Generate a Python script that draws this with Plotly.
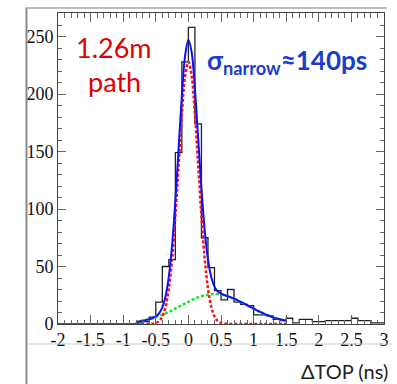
import numpy as np
import plotly.graph_objects as go

# ---------------- data ----------------
bin_width = 0.1
bin_first_edge = -2.0
counts = [0]*12 + [1, 2, 6, 19, 50, 56, 149, 228,
                   258, 174, 75, 49, 29, 21, 30, 19, 17, 16,
                   8, 8, 7, 4, 3, 5, 1, 4, 4, 2,
                   2, 3, 3, 3, 3, 5, 3, 3, 1, 1]

fit_x = [-0.8, -0.75, -0.7, -0.65, -0.6, -0.55, -0.5, -0.45, -0.4, -0.35, -0.3, -0.25,
         -0.2, -0.15, -0.1, -0.05, 0.0, 0.05, 0.1, 0.15, 0.2, 0.25, 0.3, 0.35, 0.4,
         0.45, 0.5, 0.55, 0.6, 0.65, 0.7, 0.75, 0.8, 0.85, 0.9, 0.95, 1.0, 1.05, 1.1,
         1.15, 1.2, 1.25, 1.3, 1.35, 1.4, 1.45, 1.5]
narrow_fit = [0, 0, 0, 0, 0.1, 0.3, 0.9, 2.5, 6.5, 15.0, 30.9, 56.8, 93.7, 138.3, 182.6,
              215.7, 228.0, 215.7, 182.6, 138.3, 93.7, 56.8, 30.9, 15.0, 6.5, 2.5, 0.9,
              0.3, 0.1] + [0]*18
wide_fit = [1.8, 2.25, 2.8, 3.4, 4.1, 4.9, 5.8, 6.8, 8.0, 9.2, 10.5, 11.9, 13.4, 14.9,
            16.4, 17.9, 19.3, 20.7, 22.0, 23.2, 24.1, 24.9, 25.5, 25.9, 26.0, 25.9, 25.5,
            24.9, 24.1, 23.2, 22.0, 20.7, 19.3, 17.9, 16.4, 14.9, 13.4, 11.9, 10.5, 9.2,
            8.0, 6.8, 5.8, 4.9, 4.1, 3.4, 2.8]
total_fit = [1.8, 2.25, 2.8, 3.4, 4.2, 5.2, 6.7, 9.3, 14.5, 24.2, 41.4, 68.7, 107.1,
             153.2, 199.0, 233.6, 247.3, 236.4, 204.6, 161.5, 117.8, 81.7, 56.4, 40.9,
             32.5, 28.4, 26.4, 25.2, 24.2, 23.2, 22.0, 20.7, 19.3, 17.9, 16.4, 14.9, 13.4,
             11.9, 10.5, 9.2, 8.0, 6.8, 5.8, 4.9, 4.1, 3.4, 2.8]

x_tickvals = [-2, -1.5, -1, -0.5, 0, 0.5, 1, 1.5, 2, 2.5, 3]
x_ticktext = ["-2", "-1.5", "-1", "-0.5", "0", "0.5", "1", "1.5", "2", "2.5", "3"]
y_tickvals = [0, 50, 100, 150, 200, 250]

# ---------------- geometry ----------------
W, H = 397, 384
L, R, T, B = 58, 8, 13, 60
pw, ph = W - L - R, H - T - B

def px(xp):
    return (xp - L) / pw

def py(yp):
    return (H - B - yp) / ph

edges = [round(bin_first_edge + i * bin_width, 3) for i in range(len(counts) + 1)]
hist_y = counts + [counts[-1]]

fig = go.Figure()
fig.add_trace(go.Scatter(x=edges, y=hist_y, mode="lines", line_shape="hv",
                         line=dict(color="#222222", width=1.3), showlegend=False,
                         hoverinfo="skip"))
fig.add_trace(go.Scatter(x=fit_x, y=wide_fit, mode="lines", line_shape="spline",
                         line=dict(color="#22e022", width=2.5, dash="3px,2px"),
                         showlegend=False))
fig.add_trace(go.Scatter(x=fit_x, y=narrow_fit, mode="lines", line_shape="spline",
                         line=dict(color="#ff1010", width=2.5, dash="3px,2px"),
                         showlegend=False))
fig.add_trace(go.Scatter(x=fit_x, y=total_fit, mode="lines", line_shape="spline",
                         line=dict(color="#1010ff", width=2), showlegend=False))

tickfont = dict(family="Liberation Serif", size=18, color="#111111")
fig.update_xaxes(range=[-2, 3], tickmode="array", tickvals=x_tickvals, ticktext=x_ticktext,
                 ticks="inside", ticklen=9, tickcolor="#666666", tickwidth=1,
                 ticklabelstandoff=-1,
                 minor=dict(dtick=0.1, tick0=0, ticks="inside", ticklen=4.5,
                            tickcolor="#666666", tickwidth=1, showgrid=False),
                 showline=True, linecolor="#444444", linewidth=1, mirror="ticks",
                 showgrid=False, zeroline=False, tickfont=tickfont)
fig.update_yaxes(range=[0, 270.5], tickmode="array", tickvals=y_tickvals,
                 ticks="inside", ticklen=8, tickcolor="#666666", tickwidth=1,
                 minor=dict(dtick=10, tick0=0, ticks="inside", ticklen=4,
                            tickcolor="#666666", tickwidth=1, showgrid=False),
                 showline=True, linecolor="#444444", linewidth=1, mirror="ticks",
                 showgrid=False, zeroline=False, tickfont=tickfont)

shapes = [
    dict(type="line", xref="paper", yref="paper", x0=px(26), x1=px(26), y0=py(8), y1=py(H),
         line=dict(color="#8a8a8a", width=2)),
    dict(type="line", xref="paper", yref="paper", x0=px(25), x1=px(392), y0=py(8), y1=py(8),
         line=dict(color="#a8a8a8", width=1.5)),
    dict(type="line", xref="paper", yref="paper", x0=px(27), x1=px(W), y0=py(344), y1=py(344),
         line=dict(color="#cccccc", width=1)),
]

annotations = [
    dict(text="1.26m", xref="paper", yref="paper", x=px(115), y=py(47), showarrow=False,
         xanchor="center", yanchor="middle",
         font=dict(family="Lato", size=27, color="#e00000")),
    dict(text="path", xref="paper", yref="paper", x=px(115), y=py(81), showarrow=False,
         xanchor="center", yanchor="middle",
         font=dict(family="Lato", size=27, color="#e00000")),
    dict(text="<b>σ<sub>narrow</sub>≈140ps</b>", xref="paper", yref="paper", x=px(291),
         y=py(62), showarrow=False, xanchor="center", yanchor="middle",
         font=dict(family="Lato", size=26, color="#1a3cd0")),
    dict(text="ΔTOP (ns)", xref="paper", yref="paper", x=px(395), y=py(371),
         showarrow=False, xanchor="right", yanchor="middle",
         font=dict(family="Lato", size=20, color="#222222")),
]

fig.update_layout(width=W, height=H, margin=dict(l=L, r=R, t=T, b=B, pad=0),
                  paper_bgcolor="white", plot_bgcolor="white",
                  shapes=shapes, annotations=annotations, showlegend=False)

fig.write_html("out.html")
